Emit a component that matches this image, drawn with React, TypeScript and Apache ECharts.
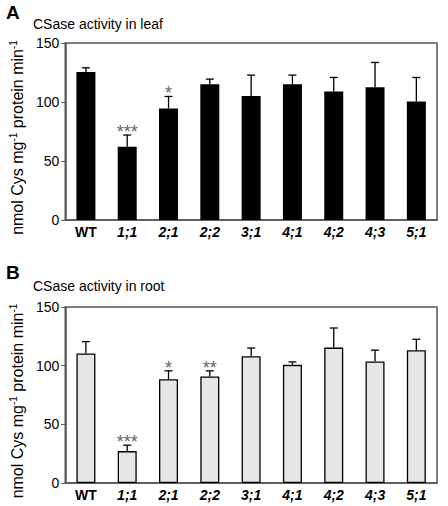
import React, { useEffect, useRef } from "react";
import * as echarts from "echarts";

const categories = ["WT", "1;1", "2;1", "2;2", "3;1", "4;1", "4;2", "4;3", "5;1"];
const leafValues = [125.4, 62, 94.5, 115, 105, 115, 109, 112.6, 100.4];
const leafErrors = [3.6, 10, 10.2, 4.4, 17.8, 7.8, 11.8, 20.9, 20.4];
const leafSig = ["", "***", "*", "", "", "", "", "", ""];
const rootValues = [110.4, 27.2, 88.5, 90.8, 108, 100.7, 115.4, 103.5, 113.2];
const rootErrors = [10.1, 5, 7.1, 4.8, 7, 2.5, 16.7, 9.7, 9.3];
const rootSig = ["", "***", "*", "**", "", "", "", "", ""];
const yTicks = [0, 50, 100, 150];

const FONT = "Liberation Sans";
const FRAME = "#555";

function errorSeries(idx: number, values: number[], errors: number[], sig: string[]) {
  return {
    type: "custom",
    xAxisIndex: idx,
    yAxisIndex: idx,
    silent: true,
    z: 5,
    encode: { x: 0, y: [1, 2] },
    data: values.map((v, i) => [i, v, v + errors[i]]),
    renderItem: (params: any, api: any) => {
      const x = api.value(0);
      const p0 = api.coord([x, api.value(1)]);
      const p1 = api.coord([x, api.value(2)]);
      const half = 4;
      const s = sig[params.dataIndex];
      const children: any[] = [
        { type: "line", shape: { x1: p0[0], y1: p0[1], x2: p1[0], y2: p1[1] }, style: { stroke: "#000", lineWidth: 1.3 } },
        { type: "line", shape: { x1: p1[0] - half, y1: p1[1], x2: p1[0] + half, y2: p1[1] }, style: { stroke: "#000", lineWidth: 1.3 } },
      ];
      if (s) {
        children.push({
          type: "text",
          x: p1[0],
          y: p1[1] - 3,
          style: { text: s, fill: "#666", font: `18px '${FONT}'`, align: "center", verticalAlign: "middle" },
        });
      }
      return { type: "group", children };
    },
  };
}

export default function App() {
  const ref = useRef<HTMLDivElement>(null);
  useEffect(() => {
    const chart = echarts.init(ref.current!, undefined, { renderer: "svg" });
    const yName = "{a|nmol Cys mg}{s|-1}{a| protein min}{s|-1}";
    const mkX = (gi: number) => ({
      type: "category",
      gridIndex: gi,
      data: categories,
      axisLine: { lineStyle: { color: FRAME, width: 1.5 } },
      axisTick: { inside: true, length: 4, lineStyle: { color: FRAME } },
      axisLabel: {
        interval: 0,
        color: "#000",
        fontFamily: FONT,
        fontSize: 14,
        fontWeight: "bold",
        margin: 5,
        formatter: (v: string) => (v === "WT" ? `{n|${v}}` : `{i|${v}}`),
        rich: {
          n: { fontFamily: FONT, fontSize: 14, fontWeight: "bold", color: "#000" },
          i: { fontFamily: FONT, fontSize: 14, fontWeight: "bold", fontStyle: "italic", color: "#000" },
        },
      },
    });
    const mkY = (gi: number) => ({
      type: "value",
      gridIndex: gi,
      min: 0,
      max: 150,
      interval: 50,
      name: yName,
      nameLocation: "middle",
      nameGap: 35,
      nameRotate: 90,
      nameTextStyle: {
        padding: [0, 12, 0, 0],
        rich: {
          a: { fontFamily: FONT, fontSize: 16, color: "#000", lineHeight: 18 },
          s: { fontFamily: FONT, fontSize: 10, color: "#000", verticalAlign: "top", lineHeight: 18 },
        },
      },
      axisLine: { show: true, lineStyle: { color: FRAME, width: 1.5 } },
      axisTick: { show: true, inside: false, length: 4, lineStyle: { color: FRAME } },
      splitLine: { show: false },
      axisLabel: {
        color: "#000",
        fontFamily: FONT,
        fontSize: 14,
        margin: 6,
        customValues: yTicks,
      },
    });
    chart.setOption({
      animation: false,
      backgroundColor: "#fff",
      title: [
        { text: "A", left: 1, top: -2, textStyle: { fontFamily: FONT, fontSize: 19, fontWeight: "bold", color: "#000" } },
        { text: "CSase activity in leaf", left: 28, top: 12, textStyle: { fontFamily: FONT, fontSize: 14, fontWeight: "normal", color: "#000" } },
        { text: "B", left: 1, top: 258, textStyle: { fontFamily: FONT, fontSize: 19, fontWeight: "bold", color: "#000" } },
        { text: "CSase activity in root", left: 28, top: 274, textStyle: { fontFamily: FONT, fontSize: 14, fontWeight: "normal", color: "#000" } },
      ],
      grid: [
        { left: 57, right: 11, top: 43, height: 177, show: true, borderColor: FRAME, borderWidth: 1.5, backgroundColor: "transparent" },
        { left: 57, right: 11, top: 307, height: 176, show: true, borderColor: FRAME, borderWidth: 1.5, backgroundColor: "transparent" },
      ],
      xAxis: [mkX(0), mkX(1)],
      yAxis: [mkY(0), mkY(1)],
      series: [
        {
          type: "bar",
          xAxisIndex: 0,
          yAxisIndex: 0,
          data: leafValues,
          barWidth: 19,
          itemStyle: { color: "#000" },
          silent: true,
        },
        errorSeries(0, leafValues, leafErrors, leafSig),
        {
          type: "bar",
          xAxisIndex: 1,
          yAxisIndex: 1,
          data: rootValues,
          barWidth: 19,
          itemStyle: { color: "#e6e6e6", borderColor: "#000", borderWidth: 1.3 },
          silent: true,
        },
        errorSeries(1, rootValues, rootErrors, rootSig),
      ],
    });
    return () => chart.dispose();
  }, []);
  return <div ref={ref} style={{ position: "absolute", left: 0, top: 0, width: 448, height: 506 }} />;
}
